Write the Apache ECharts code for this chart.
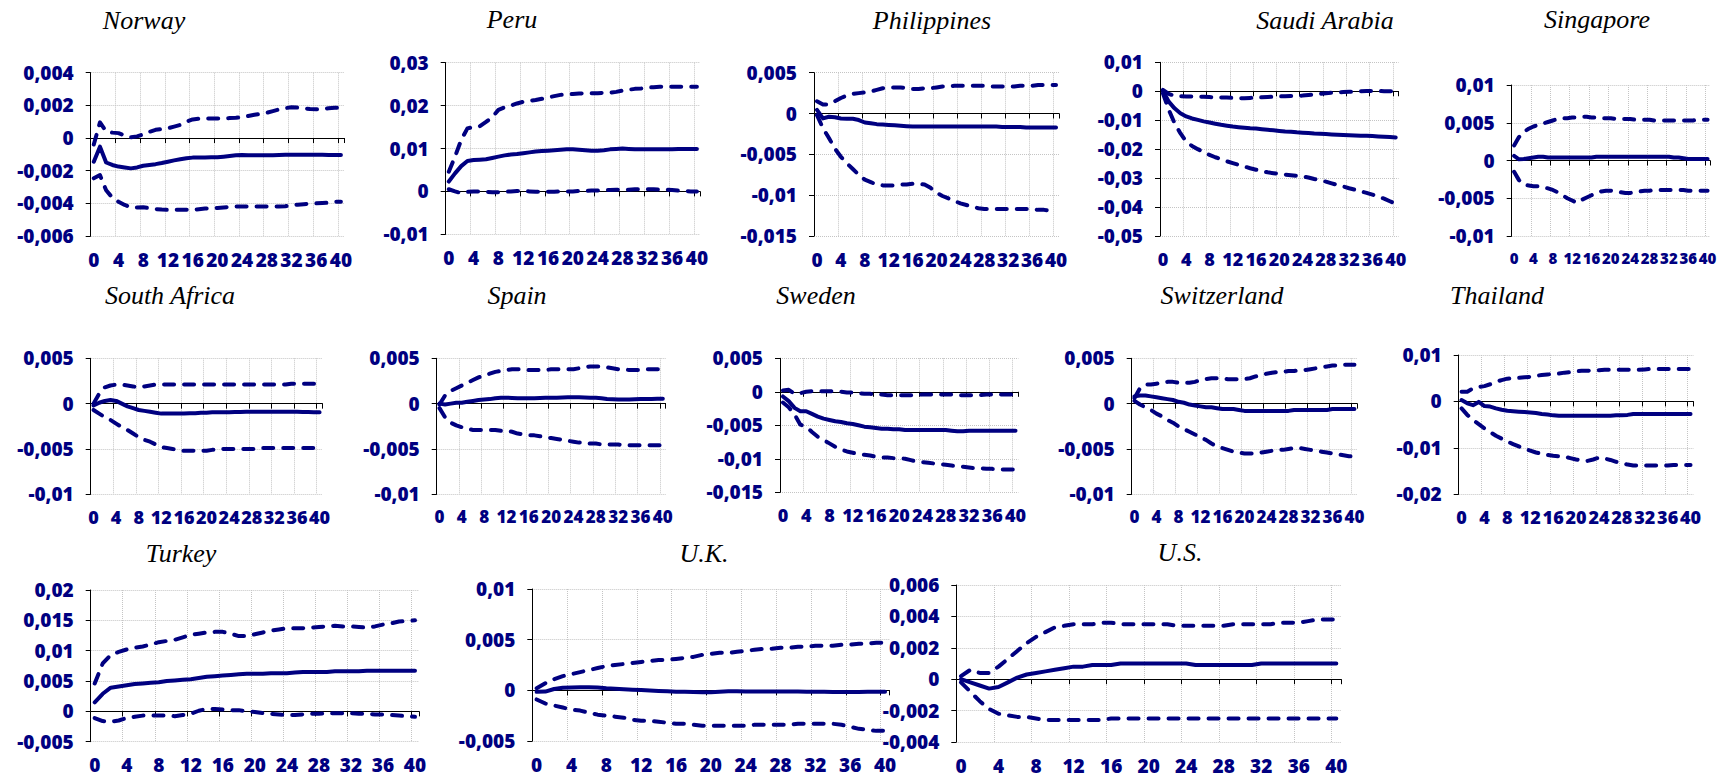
<!DOCTYPE html>
<html>
<head>
<meta charset="utf-8">
<script src="https://cdn.jsdelivr.net/npm/echarts@6/dist/echarts.min.js"></script>
<style>
  html, body { margin: 0; padding: 0; background: #ffffff; }
  #chart { width: 1732px; height: 783px; }
</style>
</head>
<body>
<div id="chart"></div>
<script>
// Horizons 0..40 (category axis)
const horizons = [];
for (let h = 0; h <= 40; h++) horizons.push(String(h));

// Country names (panel titles)
const countries = ['Norway', 'Peru', 'Philippines', 'Saudi Arabia', 'Singapore',
  'South Africa', 'Spain', 'Sweden', 'Switzerland', 'Thailand',
  'Turkey', 'U.K.', 'U.S.'];

// Y-axis tick ranges per country: [min, max, step]
const yTicks = {
  'Norway': [-0.006, 0.004, 0.002],
  'Peru': [-0.01, 0.03, 0.01],
  'Philippines': [-0.015, 0.005, 0.005],
  'Saudi Arabia': [-0.05, 0.01, 0.01],
  'Singapore': [-0.01, 0.01, 0.005],
  'South Africa': [-0.01, 0.005, 0.005],
  'Spain': [-0.01, 0.005, 0.005],
  'Sweden': [-0.015, 0.005, 0.005],
  'Switzerland': [-0.01, 0.005, 0.005],
  'Thailand': [-0.02, 0.01, 0.01],
  'Turkey': [-0.005, 0.02, 0.005],
  'U.K.': [-0.005, 0.01, 0.005],
  'U.S.': [-0.004, 0.006, 0.002]
};

// ---- Impulse responses: point estimate (mid) and confidence bands (upper / lower) ----
const norwayMid = [-0.00145,-0.00053,-0.0015,-0.00165,-0.00175,-0.0018,-0.00186,-0.0018,-0.0017,-0.00165,
  -0.0016,-0.00153,-0.00145,-0.00137,-0.0013,-0.00124,-0.0012,-0.0012,-0.00119,-0.00118,
  -0.00118,-0.00114,-0.0011,-0.00106,-0.00104,-0.00105,-0.00106,-0.00106,-0.00106,-0.00105,
  -0.00104,-0.00103,-0.00102,-0.00102,-0.00102,-0.00102,-0.00102,-0.00103,-0.00104,-0.00104,
  -0.00104];
const norwayUpper = [-0.0004,0.00096,0.0004,0.00033,0.0003,0.00015,0.00004,0.0001,0.00022,0.00038,
  0.0005,0.00055,0.0006,0.0007,0.0008,0.001,0.00114,0.00118,0.0012,0.0012,
  0.0012,0.0012,0.00122,0.00124,0.00127,0.00135,0.00142,0.00148,0.00155,0.00165,
  0.00175,0.00183,0.00188,0.00186,0.00182,0.00178,0.00176,0.00178,0.00182,0.00185,
  0.00186];
const norwayLower = [-0.00247,-0.00227,-0.0032,-0.00365,-0.0039,-0.0041,-0.00424,-0.00425,-0.00424,-0.0043,
  -0.00435,-0.00438,-0.0044,-0.0044,-0.0044,-0.0044,-0.0044,-0.00436,-0.00432,-0.0043,
  -0.00428,-0.00425,-0.00422,-0.0042,-0.0042,-0.0042,-0.0042,-0.0042,-0.0042,-0.0042,
  -0.0042,-0.00418,-0.0041,-0.00408,-0.00405,-0.00402,-0.004,-0.00398,-0.00396,-0.0039,
  -0.0039];

const peruMid = [0.0023,0.0042,0.0059,0.0071,0.0073,0.0074,0.0075,0.0078,0.0081,0.0084,
  0.0086,0.0087,0.0089,0.0091,0.0093,0.0094,0.0095,0.0096,0.0097,0.0098,
  0.0098,0.0097,0.0096,0.0095,0.0095,0.0096,0.0098,0.0099,0.01,0.0099,
  0.0098,0.0098,0.0098,0.0098,0.0098,0.0098,0.0098,0.0099,0.0099,0.0099,
  0.0099];
const peruUpper = [0.0046,0.0081,0.012,0.0147,0.015,0.0152,0.0162,0.0173,0.019,0.0196,
  0.02,0.0205,0.0209,0.0211,0.0213,0.0216,0.0219,0.0222,0.0225,0.0226,
  0.0227,0.0228,0.0229,0.0229,0.0229,0.023,0.023,0.0232,0.0235,0.0237,
  0.0239,0.024,0.0242,0.0243,0.0244,0.0244,0.0244,0.0244,0.0244,0.0244,
  0.0244];
const peruLower = [0.0005,0,-0.0004,-0.0001,0,0,-0.0001,-0.0002,-0.0002,-0.0001,
  0,0.0001,0.0001,0,-0.0001,-0.0001,-0.0001,-0.0001,0,0,
  0,0.0001,0.0001,0.0002,0.0002,0.0003,0.0003,0.0004,0.0004,0.0004,
  0.0005,0.0005,0.0005,0.0005,0.0004,0.0004,0.0003,0.0002,0.0001,0,
  0];

const philippinesMid = [0.00045,-0.0006,-0.0004,-0.00045,-0.0006,-0.00065,-0.00065,-0.0008,-0.0011,-0.0012,
  -0.0013,-0.00135,-0.0014,-0.00145,-0.0015,-0.00155,-0.0016,-0.0016,-0.0016,-0.0016,
  -0.0016,-0.0016,-0.0016,-0.0016,-0.0016,-0.0016,-0.0016,-0.0016,-0.0016,-0.0016,
  -0.0016,-0.00165,-0.00165,-0.00165,-0.00165,-0.0017,-0.0017,-0.0017,-0.0017,-0.0017,
  -0.0017];
const philippinesUpper = [0.0015,0.0011,0.0011,0.0015,0.0019,0.0022,0.0024,0.0025,0.0026,0.0027,
  0.0029,0.0031,0.0032,0.0032,0.0032,0.0031,0.003,0.003,0.0031,0.0031,
  0.0032,0.0033,0.0033,0.0034,0.0034,0.0034,0.0034,0.0034,0.0034,0.0033,
  0.0033,0.0033,0.0033,0.0033,0.0034,0.0034,0.0034,0.0035,0.0035,0.0035,
  0.0035];
const philippinesLower = [-0.0002,-0.0018,-0.003,-0.0043,-0.0053,-0.0061,-0.0068,-0.0075,-0.0081,-0.0084,
  -0.0087,-0.0088,-0.0088,-0.0088,-0.0087,-0.0087,-0.0086,-0.0086,-0.0087,-0.0091,
  -0.0097,-0.0101,-0.0104,-0.0107,-0.011,-0.0112,-0.0114,-0.0116,-0.0117,-0.0117,
  -0.0117,-0.0117,-0.0117,-0.0117,-0.0117,-0.0117,-0.0117,-0.0118,-0.0118,-0.0119,
  -0.0119];

const saudiMid = [0.0002,-0.0036,-0.0059,-0.0076,-0.0087,-0.0094,-0.0099,-0.0104,-0.0108,-0.0112,
  -0.0116,-0.0119,-0.0122,-0.0124,-0.0126,-0.0128,-0.0129,-0.0131,-0.0133,-0.0135,
  -0.0137,-0.0139,-0.014,-0.0142,-0.0143,-0.0144,-0.0146,-0.0147,-0.0148,-0.0149,
  -0.015,-0.0151,-0.0152,-0.0153,-0.0154,-0.0154,-0.0155,-0.0156,-0.0157,-0.0158,
  -0.016];
const saudiUpper = [0.0005,-0.0009,-0.0016,-0.0017,-0.0018,-0.0018,-0.0019,-0.0019,-0.002,-0.0021,
  -0.0022,-0.0022,-0.0023,-0.0024,-0.0024,-0.0023,-0.0022,-0.0021,-0.002,-0.0019,
  -0.0018,-0.0017,-0.0016,-0.0016,-0.0015,-0.0013,-0.0011,-0.0009,-0.0007,-0.0005,
  -0.0004,-0.0003,-0.0002,-0.0001,0,0.0001,0.0001,0.0001,0,0,
  0];
const saudiLower = [-0.0007,-0.0064,-0.011,-0.0145,-0.0174,-0.0189,-0.02,-0.021,-0.022,-0.0228,
  -0.0235,-0.0242,-0.0248,-0.0254,-0.026,-0.0266,-0.0271,-0.0276,-0.028,-0.0283,
  -0.0286,-0.0288,-0.029,-0.0292,-0.0294,-0.0298,-0.0303,-0.0307,-0.0312,-0.0318,
  -0.0324,-0.0329,-0.0335,-0.034,-0.0346,-0.0351,-0.0357,-0.0364,-0.0371,-0.038,
  -0.0389];

const singaporeMid = [0.0006,0.00015,0.0002,0.0003,0.0004,0.0005,0.0005,0.0004,0.0004,0.0004,
  0.0004,0.0004,0.0004,0.0004,0.0004,0.0004,0.0004,0.0005,0.0005,0.0005,
  0.0005,0.0005,0.0005,0.0005,0.0005,0.0005,0.0005,0.0005,0.0005,0.0005,
  0.0005,0.0005,0.0005,0.0004,0.0004,0.0003,0.0002,0.0002,0.0002,0.0002,
  0.0002];
const singaporeUpper = [0.002,0.0031,0.0038,0.0042,0.0045,0.0047,0.0049,0.0051,0.0053,0.0055,
  0.0056,0.0056,0.0057,0.0057,0.0058,0.0058,0.0057,0.0057,0.0056,0.0056,
  0.0056,0.0055,0.0055,0.0055,0.0055,0.0054,0.0054,0.0054,0.0054,0.0053,
  0.0053,0.0053,0.0053,0.0053,0.0053,0.0053,0.0053,0.0053,0.0054,0.0054,
  0.0054];
const singaporeLower = [-0.0015,-0.0026,-0.0032,-0.0033,-0.0034,-0.0034,-0.0035,-0.0037,-0.0039,-0.0042,
  -0.0046,-0.005,-0.0053,-0.0056,-0.0052,-0.0049,-0.0046,-0.0043,-0.0041,-0.004,
  -0.004,-0.0041,-0.0042,-0.0043,-0.0043,-0.0042,-0.0041,-0.004,-0.004,-0.0039,
  -0.0039,-0.0039,-0.0039,-0.0039,-0.0039,-0.0039,-0.004,-0.004,-0.004,-0.004,
  -0.004];

const southAfricaMid = [-0.0002,0.0001,0.0003,0.0004,0.0003,0,-0.0003,-0.0005,-0.0007,-0.0008,
  -0.0009,-0.001,-0.0011,-0.0011,-0.0011,-0.0011,-0.0011,-0.00105,-0.00105,-0.001,
  -0.001,-0.00095,-0.00095,-0.00095,-0.00095,-0.00093,-0.00092,-0.0009,-0.0009,-0.0009,
  -0.0009,-0.0009,-0.0009,-0.0009,-0.0009,-0.0009,-0.0009,-0.00092,-0.00093,-0.00095,
  -0.00095];
const southAfricaUpper = [0,0.0011,0.0018,0.002,0.0021,0.0021,0.002,0.0019,0.0018,0.0019,
  0.002,0.0021,0.0021,0.0021,0.0021,0.0021,0.0021,0.0021,0.0021,0.0021,
  0.0021,0.0021,0.0021,0.0021,0.0021,0.0021,0.0021,0.0021,0.0021,0.0021,
  0.0021,0.0021,0.0021,0.0021,0.0021,0.0022,0.0022,0.0022,0.0022,0.0022,
  0.0022];
const southAfricaLower = [-0.0007,-0.0011,-0.0015,-0.0018,-0.0022,-0.0026,-0.0029,-0.0033,-0.0037,-0.004,
  -0.0042,-0.0045,-0.0048,-0.0049,-0.005,-0.0051,-0.0052,-0.0052,-0.0052,-0.0052,
  -0.0052,-0.0051,-0.0051,-0.005,-0.005,-0.005,-0.005,-0.005,-0.005,-0.005,
  -0.0049,-0.0049,-0.0049,-0.0049,-0.0049,-0.0049,-0.0049,-0.0049,-0.0049,-0.0049,
  -0.0049];

const spainMid = [0,-0.0001,0,0.0001,0.0001,0.0002,0.0003,0.0004,0.00045,0.0005,
  0.0006,0.00065,0.00065,0.00063,0.0006,0.0006,0.0006,0.0006,0.00062,0.00065,
  0.00065,0.00066,0.00068,0.0007,0.0007,0.0007,0.00068,0.00066,0.00065,0.0006,
  0.00052,0.00048,0.00045,0.00045,0.00046,0.00048,0.0005,0.0005,0.00052,0.00054,
  0.00055];
const spainUpper = [-0.0001,0.0009,0.0014,0.0017,0.002,0.0023,0.0026,0.0029,0.0031,0.0033,
  0.0035,0.0036,0.0037,0.0038,0.0038,0.0038,0.0037,0.0037,0.0037,0.0037,
  0.0038,0.0038,0.0038,0.0038,0.0038,0.0039,0.004,0.0041,0.0041,0.0041,
  0.004,0.0039,0.0038,0.0038,0.0037,0.0037,0.0037,0.0038,0.0038,0.0038,
  0.0038];
const spainLower = [-0.0005,-0.0015,-0.0021,-0.0024,-0.0026,-0.0028,-0.0029,-0.0029,-0.0029,-0.0029,
  -0.0029,-0.003,-0.003,-0.0031,-0.0033,-0.0034,-0.0035,-0.0035,-0.0036,-0.0037,
  -0.0038,-0.0039,-0.004,-0.0041,-0.0042,-0.0043,-0.0043,-0.0044,-0.0044,-0.0045,
  -0.0045,-0.0045,-0.0045,-0.0046,-0.0046,-0.0046,-0.0046,-0.0046,-0.0046,-0.0046,
  -0.0046];

const swedenMid = [-0.0007,-0.0014,-0.0024,-0.0029,-0.0029,-0.0033,-0.0037,-0.004,-0.0042,-0.0044,
  -0.0045,-0.0047,-0.0048,-0.005,-0.0052,-0.0053,-0.0054,-0.0055,-0.0055,-0.0056,
  -0.0056,-0.0057,-0.0057,-0.0057,-0.0057,-0.0057,-0.0057,-0.0057,-0.0057,-0.0058,
  -0.0059,-0.0059,-0.0058,-0.0058,-0.0058,-0.0058,-0.0058,-0.0058,-0.0058,-0.0058,
  -0.0058];
const swedenUpper = [0.0002,0.0003,-0.0003,-0.0002,0,0.0001,0.0001,0.0001,0.0001,0,
  0,-0.0001,-0.0001,-0.0002,-0.0003,-0.0003,-0.0004,-0.0004,-0.0005,-0.0005,
  -0.0005,-0.0005,-0.0005,-0.0005,-0.0004,-0.0004,-0.0004,-0.0004,-0.0004,-0.0004,
  -0.0005,-0.0005,-0.0005,-0.0005,-0.0005,-0.0004,-0.0004,-0.0004,-0.0004,-0.0004,
  -0.0004];
const swedenLower = [-0.0016,-0.0023,-0.0034,-0.0049,-0.0052,-0.006,-0.0067,-0.0072,-0.0077,-0.0082,
  -0.0086,-0.0089,-0.0091,-0.0093,-0.0094,-0.0095,-0.0097,-0.0098,-0.0098,-0.0099,
  -0.0099,-0.01,-0.0102,-0.0104,-0.0105,-0.0106,-0.0107,-0.0108,-0.0109,-0.011,
  -0.0111,-0.0112,-0.0113,-0.0114,-0.0114,-0.0115,-0.0115,-0.0116,-0.0116,-0.0116,
  -0.0116];

const switzerlandMid = [0.0008,0.0009,0.0009,0.0008,0.0007,0.0006,0.0005,0.0004,0.0002,0.0001,
  -0.0001,-0.0002,-0.0003,-0.0004,-0.0004,-0.0005,-0.0006,-0.0006,-0.0006,-0.0007,
  -0.0008,-0.0008,-0.0008,-0.0008,-0.0008,-0.0008,-0.0008,-0.0008,-0.0008,-0.0007,
  -0.0007,-0.0007,-0.0007,-0.0007,-0.0007,-0.0007,-0.0006,-0.0006,-0.0006,-0.0006,
  -0.0006];
const switzerlandUpper = [0.0006,0.0017,0.0021,0.0021,0.0022,0.0023,0.0024,0.0024,0.0023,0.0023,
  0.0023,0.0024,0.0026,0.0027,0.0028,0.0028,0.0028,0.0027,0.0027,0.0027,
  0.0027,0.0028,0.003,0.0031,0.0033,0.0034,0.0035,0.0035,0.0036,0.0036,
  0.0037,0.0037,0.0038,0.0039,0.004,0.0041,0.0042,0.0042,0.0043,0.0043,
  0.0043];
const switzerlandLower = [0.0003,-0.0001,-0.0004,-0.0007,-0.0011,-0.0014,-0.0018,-0.0021,-0.0025,-0.0028,
  -0.0031,-0.0034,-0.0037,-0.004,-0.0044,-0.0047,-0.0049,-0.0051,-0.0053,-0.0054,
  -0.0055,-0.0055,-0.0055,-0.0054,-0.0053,-0.0052,-0.0051,-0.0051,-0.005,-0.0049,
  -0.0049,-0.005,-0.0051,-0.0052,-0.0053,-0.0054,-0.0055,-0.0056,-0.0057,-0.0058,
  -0.0058];

const thailandMid = [0.0003,-0.0004,-0.0008,-0.0001,-0.001,-0.0011,-0.0015,-0.0018,-0.002,-0.0021,
  -0.0022,-0.0023,-0.0024,-0.0025,-0.0027,-0.0028,-0.003,-0.0031,-0.0031,-0.0031,
  -0.0031,-0.0031,-0.0031,-0.0031,-0.0031,-0.0031,-0.0031,-0.003,-0.003,-0.0029,
  -0.0027,-0.0027,-0.0027,-0.0027,-0.0027,-0.0027,-0.0027,-0.0027,-0.0027,-0.0027,
  -0.0027];
const thailandUpper = [0.0021,0.0021,0.0028,0.0031,0.0033,0.0037,0.0042,0.0046,0.0049,0.005,
  0.0051,0.0052,0.0053,0.0055,0.0057,0.0058,0.0059,0.006,0.0062,0.0063,
  0.0065,0.0066,0.0066,0.0067,0.0067,0.0068,0.0068,0.0068,0.0068,0.0068,
  0.0068,0.0068,0.0069,0.007,0.007,0.007,0.007,0.007,0.007,0.007,
  0.007];
const thailandLower = [-0.0015,-0.0029,-0.004,-0.0049,-0.0058,-0.0066,-0.0074,-0.008,-0.0086,-0.0092,
  -0.0097,-0.0102,-0.0106,-0.011,-0.0113,-0.0115,-0.0117,-0.0118,-0.0119,-0.0122,
  -0.0125,-0.0127,-0.0128,-0.0125,-0.0121,-0.0123,-0.0126,-0.013,-0.0133,-0.0136,
  -0.0138,-0.0138,-0.0138,-0.0138,-0.0138,-0.0138,-0.0138,-0.0137,-0.0137,-0.0137,
  -0.0137];

const turkeyMid = [0.0015,0.0029,0.0039,0.0041,0.0043,0.0045,0.0046,0.0047,0.0048,0.005,
  0.0051,0.0052,0.0053,0.0055,0.0057,0.0058,0.0059,0.006,0.0061,0.0062,
  0.0062,0.0062,0.0063,0.0063,0.0063,0.0064,0.0065,0.0065,0.0065,0.0065,
  0.0066,0.0066,0.0066,0.0066,0.0067,0.0067,0.0067,0.0067,0.0067,0.0067,
  0.0067];
const turkeyUpper = [0.0046,0.0079,0.0093,0.0098,0.0102,0.0105,0.0107,0.011,0.0114,0.0116,
  0.0118,0.0122,0.0126,0.0128,0.013,0.0131,0.0131,0.0128,0.0124,0.0124,
  0.0127,0.013,0.0133,0.0135,0.0137,0.0137,0.0137,0.0138,0.0139,0.014,
  0.0141,0.014,0.014,0.0139,0.0138,0.014,0.0143,0.0145,0.0148,0.0149,
  0.015];
const turkeyLower = [-0.0011,-0.0016,-0.0017,-0.0015,-0.0011,-0.0009,-0.0007,-0.0007,-0.0007,-0.0007,
  -0.0008,-0.0006,-0.0004,0.0001,0.0004,0.0004,0.0003,0.0002,0.0002,0,
  -0.0001,-0.0003,-0.0004,-0.0005,-0.0006,-0.0006,-0.0005,-0.0004,-0.0004,-0.0003,
  -0.0003,-0.0003,-0.0003,-0.0004,-0.0004,-0.0005,-0.0005,-0.0006,-0.0007,-0.0008,
  -0.0009];

const ukMid = [-0.00015,-0.00012,0.00013,0.00026,0.00028,0.0003,0.0003,0.00027,0.0002,0.00015,
  0.0001,0.00006,0.00003,-0.00002,-0.00006,-0.0001,-0.00013,-0.00015,-0.00017,-0.0002,
  -0.0002,-0.00015,-0.0001,-0.0001,-0.00012,-0.00012,-0.00012,-0.00012,-0.00012,-0.00012,
  -0.00012,-0.00013,-0.00014,-0.00015,-0.00016,-0.00017,-0.00017,-0.00016,-0.00015,-0.00015,
  -0.00015];
const ukUpper = [0.0002,0.0007,0.0011,0.0014,0.0016,0.0018,0.002,0.0022,0.0024,0.0025,
  0.0026,0.0027,0.0028,0.0029,0.003,0.003,0.0031,0.0032,0.0033,0.0035,
  0.0036,0.0037,0.0037,0.0038,0.0039,0.004,0.0041,0.0041,0.0042,0.0042,
  0.0043,0.0043,0.0044,0.0044,0.0044,0.0045,0.0045,0.0046,0.0046,0.0047,
  0.0047];
const ukLower = [-0.0009,-0.0013,-0.0015,-0.0017,-0.0019,-0.002,-0.0022,-0.0024,-0.0025,-0.0026,
  -0.0027,-0.0029,-0.003,-0.003,-0.0031,-0.0032,-0.0033,-0.0033,-0.0034,-0.0035,
  -0.0035,-0.0035,-0.0035,-0.0035,-0.0035,-0.0034,-0.0034,-0.0034,-0.0034,-0.0034,
  -0.0033,-0.0033,-0.0033,-0.0033,-0.0033,-0.0034,-0.0036,-0.0038,-0.0039,-0.004,
  -0.004];

const usMid = [0,-0.0002,-0.0004,-0.0006,-0.0005,-0.0002,0.0001,0.0003,0.0004,0.0005,
  0.0006,0.0007,0.0008,0.0008,0.0009,0.0009,0.0009,0.001,0.001,0.001,
  0.001,0.001,0.001,0.001,0.001,0.0009,0.0009,0.0009,0.0009,0.0009,
  0.0009,0.0009,0.001,0.001,0.001,0.001,0.001,0.001,0.001,0.001,
  0.001];
const usUpper = [0.0002,0.0006,0.0004,0.0004,0.0008,0.0013,0.0018,0.0023,0.0027,0.003,
  0.0033,0.0034,0.0035,0.0035,0.0035,0.0036,0.0036,0.0035,0.0035,0.0035,
  0.0035,0.0035,0.0035,0.0034,0.0034,0.0034,0.0034,0.0034,0.0034,0.0035,
  0.0035,0.0035,0.0035,0.0035,0.0036,0.0036,0.0036,0.0037,0.0038,0.0038,
  0.0038];
const usLower = [-0.0002,-0.0008,-0.0014,-0.0019,-0.0022,-0.0023,-0.0024,-0.0024,-0.0025,-0.0026,
  -0.0026,-0.0026,-0.0026,-0.0026,-0.0026,-0.0026,-0.0025,-0.0025,-0.0025,-0.0025,
  -0.0025,-0.0025,-0.0025,-0.0025,-0.0025,-0.0025,-0.0025,-0.0025,-0.0025,-0.0025,
  -0.0025,-0.0025,-0.0025,-0.0025,-0.0025,-0.0025,-0.0025,-0.0025,-0.0025,-0.0025,
  -0.0025];

const seriesByCountry = {
  'Norway': [norwayMid, norwayUpper, norwayLower],
  'Peru': [peruMid, peruUpper, peruLower],
  'Philippines': [philippinesMid, philippinesUpper, philippinesLower],
  'Saudi Arabia': [saudiMid, saudiUpper, saudiLower],
  'Singapore': [singaporeMid, singaporeUpper, singaporeLower],
  'South Africa': [southAfricaMid, southAfricaUpper, southAfricaLower],
  'Spain': [spainMid, spainUpper, spainLower],
  'Sweden': [swedenMid, swedenUpper, swedenLower],
  'Switzerland': [switzerlandMid, switzerlandUpper, switzerlandLower],
  'Thailand': [thailandMid, thailandUpper, thailandLower],
  'Turkey': [turkeyMid, turkeyUpper, turkeyLower],
  'U.K.': [ukMid, ukUpper, ukLower],
  'U.S.': [usMid, usUpper, usLower]
};

// ---- Page layout: plot rectangle [left, top, width, height] and title centre [x, y] ----
const layout = {
  'Norway':       { grid: [90.7, 72.7, 253.3, 163.3], title: [144, 20] },
  'Peru':         { grid: [445.7, 62.7, 254.3, 171.6], title: [512, 19] },
  'Philippines':  { grid: [814, 72.7, 245, 163.3], title: [932, 20] },
  'Saudi Arabia': { grid: [1160, 62.3, 238.6, 173.7], title: [1325, 20] },
  'Singapore':    { grid: [1511.7, 85, 198.3, 151], title: [1597, 19] },
  'South Africa': { grid: [90.7, 358.3, 231.7, 136], title: [170, 295] },
  'Spain':        { grid: [436.7, 358.3, 228.9, 136], title: [517, 295] },
  'Sweden':       { grid: [780, 358.3, 238.4, 134], title: [816, 295] },
  'Switzerland':  { grid: [1131.7, 358.3, 225.5, 136], title: [1222, 295] },
  'Thailand':     { grid: [1458.7, 355, 234.7, 139.3], title: [1497, 295] },
  'Turkey':       { grid: [90.7, 590, 328.3, 151.7], title: [181, 553] },
  'U.K.':         { grid: [532.3, 589, 357.1, 152], title: [704, 553] },
  'U.S.':         { grid: [956.3, 585, 384.7, 157], title: [1180, 552] }
};

const NAVY = '#000080';
const FONT = '"Open Sans", "DejaVu Sans", sans-serif';
const gridLine = { color: '#c4c4c4', width: 1, type: 'dotted' };

function formatTick(v) {
  if (Math.abs(v) < 1e-12) return '0';
  return String(parseFloat(v.toFixed(4))).replace('.', ',');
}

const grids = [], xAxes = [], yAxes = [], series = [], titles = [];

countries.forEach((name, k) => {
  const L = layout[name];
  const [yMin, yMax, yStep] = yTicks[name];
  grids.push({ left: L.grid[0], top: L.grid[1], width: L.grid[2], height: L.grid[3], containLabel: false });

  // horizon labels shrink on the narrowest panels so that "12", "16", ... stay apart
  const labelStep = L.grid[2] / horizons.length * 4;
  const xFontSize = Math.min(19, Math.floor((labelStep - 1.5) / 1.17));

  // zero-crossing axis line with ticks and vertical grid lines
  xAxes.push({
    type: 'category', gridIndex: k, data: horizons, boundaryGap: true,
    axisLine: { show: true, onZero: true, lineStyle: { color: '#000', width: 1 } },
    axisTick: { show: true, interval: 3, length: 5, lineStyle: { color: '#000', width: 1 } },
    axisLabel: { show: false },
    splitLine: { show: true, interval: 3, showMaxLine: false, lineStyle: gridLine }
  });
  // labels along the bottom of the plot
  xAxes.push({
    type: 'category', gridIndex: k, data: horizons, boundaryGap: true, position: 'bottom',
    axisLine: { show: false, onZero: false },
    axisTick: { show: false },
    axisLabel: { interval: 3, margin: 14, showMinLabel: true, showMaxLabel: true, hideOverlap: false,
      fontFamily: FONT, fontWeight: 800, fontSize: xFontSize, color: NAVY },
    splitLine: { show: false }
  });
  yAxes.push({
    type: 'value', gridIndex: k, min: yMin, max: yMax, interval: yStep,
    axisLine: { show: true, onZero: false, lineStyle: { color: '#000', width: 1 } },
    axisTick: { show: true, length: 5, lineStyle: { color: '#000', width: 1 } },
    axisLabel: { margin: 17, formatter: formatTick,
      fontFamily: FONT, fontWeight: 800, fontSize: 19, color: NAVY },
    splitLine: { show: true, lineStyle: gridLine }
  });

  const [mid, upper, lower] = seriesByCountry[name];
  const common = { type: 'line', xAxisIndex: 2 * k, yAxisIndex: k, showSymbol: false, symbol: 'none',
    silent: true, animation: false, z: 3 };
  series.push(Object.assign({ name: name + ' mid', data: mid,
    lineStyle: { color: NAVY, width: 4, type: 'solid', cap: 'round', join: 'round' } }, common));
  series.push(Object.assign({ name: name + ' upper', data: upper,
    lineStyle: { color: NAVY, width: 4, type: [10, 10], cap: 'round', join: 'round' } }, common));
  series.push(Object.assign({ name: name + ' lower', data: lower,
    lineStyle: { color: NAVY, width: 4, type: [10, 10], cap: 'round', join: 'round' } }, common));

  titles.push({
    type: 'text', x: L.title[0], y: L.title[1], silent: true,
    style: { text: name, font: 'italic 26px "Liberation Serif", "Times New Roman", serif',
      fill: '#000', align: 'center', verticalAlign: 'middle' }
  });
});

const chart = echarts.init(document.getElementById('chart'), null, { renderer: 'svg' });
chart.setOption({
  backgroundColor: '#ffffff',
  animation: false,
  grid: grids,
  xAxis: xAxes,
  yAxis: yAxes,
  series: series,
  graphic: titles
});
</script>
</body>
</html>
